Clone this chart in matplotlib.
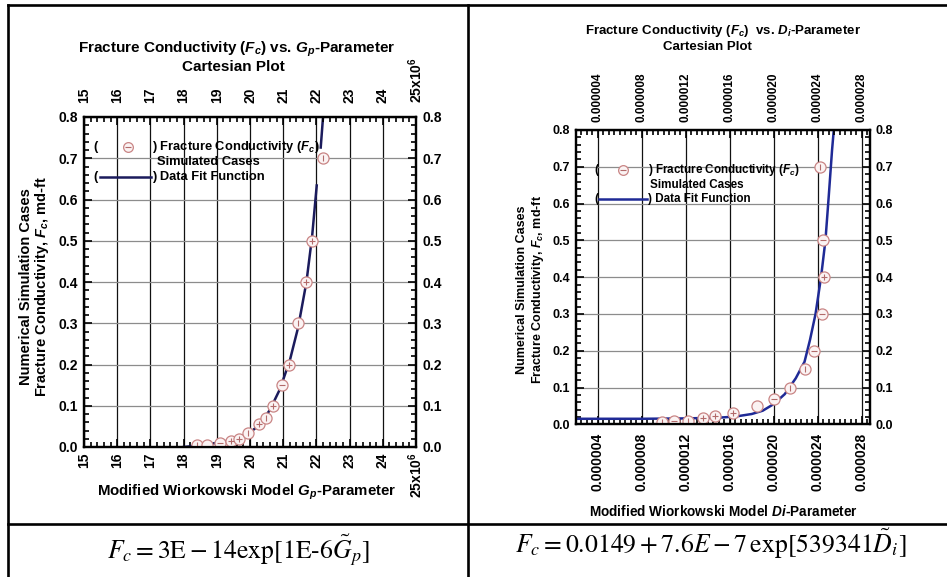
import matplotlib
matplotlib.use('Agg')
import matplotlib.pyplot as plt
from matplotlib.lines import Line2D
from matplotlib.ticker import MultipleLocator

plt.rcParams['font.family'] = ['Liberation Sans', 'DejaVu Sans']
plt.rcParams['mathtext.fontset'] = 'custom'
plt.rcParams['mathtext.rm'] = 'Liberation Sans:bold'
plt.rcParams['mathtext.it'] = 'Liberation Sans:italic:bold'
plt.rcParams['mathtext.bf'] = 'Liberation Sans:bold'

# ---- left chart: Fc vs Gp (x in 1e6) ----
gp_pts = [18.40, 18.69, 19.10, 19.43, 19.67, 19.95, 20.27, 20.47, 20.68, 20.97,
          21.16, 21.46, 21.69, 21.86, 22.19]
fc_gp_pts = [0.004, 0.005, 0.01, 0.015, 0.02, 0.035, 0.055, 0.07, 0.10, 0.15,
             0.20, 0.30, 0.40, 0.50, 0.70]
gp_fit_lo = [18.0, 18.5, 19.0, 19.5, 20.0, 20.3, 20.6, 20.9, 21.2, 21.45, 21.7, 21.87, 22.01]
fc_fit_lo = [0.0, 0.004, 0.01, 0.018, 0.035, 0.055, 0.09, 0.14, 0.21, 0.29, 0.40, 0.51, 0.634]
gp_fit_hi = [22.13, 22.20]
fc_fit_hi = [0.726, 0.80]
gp_ticks = list(range(15, 26))
gp_labels = [str(v) for v in range(15, 25)] + ['25x10$^{6}$']

# ---- right chart: Fc vs Di ----
di_pts = [9.84e-6, 10.96e-6, 12.25e-6, 13.6e-6, 14.67e-6, 16.33e-6, 18.5e-6, 20.0e-6,
          21.5e-6, 22.84e-6, 23.68e-6, 24.35e-6, 24.59e-6, 24.50e-6, 24.20e-6]
fc_di_pts = [0.005, 0.008, 0.01, 0.017, 0.022, 0.032, 0.05, 0.07,
             0.10, 0.15, 0.20, 0.30, 0.40, 0.50, 0.70]
di_fit = [2.0e-6, 4e-6, 8e-6, 12e-6, 15e-6, 16.5e-6, 18e-6, 19e-6, 20e-6, 21e-6, 22e-6,
          22.8e-6, 23.3e-6, 23.8e-6, 24.3e-6, 24.7e-6, 25.0e-6, 25.3e-6, 25.6e-6]
fc_di_fit = [0.015, 0.015, 0.015, 0.016, 0.018, 0.021, 0.028, 0.037, 0.055, 0.082, 0.125,
             0.17, 0.23, 0.30, 0.40, 0.50, 0.62, 0.745, 0.85]
di_ticks = [4e-6, 8e-6, 12e-6, 16e-6, 20e-6, 24e-6, 28e-6]
di_labels = ['%.6f' % v for v in di_ticks]

fc_ticks = [0.0, 0.1, 0.2, 0.3, 0.4, 0.5, 0.6, 0.7, 0.8]
fc_labels = ['%.1f' % v for v in fc_ticks]

# small symbols inside the circles
inner_gp = ['|', '', '_', '+', '+', '|', '+', '|', '+', '_', '+', '|', '+', '+', '|']
inner_di = ['|', '_', '|', '+', '+', '+', '', '_', '|', '|', '_', '_', '+', '_', '|']

W, H = 947, 577
def fx(x):
    return x / W
def fy(y):
    return 1 - y / H

fig = plt.figure(figsize=(W / 100, H / 100), dpi=100)

ring = dict(marker='o', ls='none', mfc='#fbf3f3', mec='#c98585', mew=0.9)
sym_color = '#b26a6a'
B = dict(fontweight='bold')


def style_axes(ax, xlim, xticks, xlabels, xminor, size_bot, size_top, pad_bot, pad_top,
               size_y, pad_l, pad_r):
    ax.set_xlim(*xlim)
    ax.set_ylim(0, 0.8)
    ax.set_xticks(xticks)
    ax.set_xticklabels(xlabels, fontweight='bold')
    ax.xaxis.set_minor_locator(MultipleLocator(xminor))
    ax.set_yticks(fc_ticks)
    ax.set_yticklabels(fc_labels, fontweight='bold')
    ax.yaxis.set_minor_locator(MultipleLocator(0.02))
    ax.tick_params(which='both', direction='in', top=False, right=True, width=1.2)
    ax.tick_params(which='major', length=6)
    ax.tick_params(which='minor', length=3.5)
    ax.tick_params(axis='x', labelrotation=90, labelsize=size_bot, pad=pad_bot)
    ax.tick_params(axis='y', labelright=True, labelsize=size_y)
    ax.tick_params(axis='y', which='major', pad=pad_l)
    for t in ax.yaxis.get_major_ticks():
        t.label2.set_fontweight('bold')
    ax.grid(axis='x', color='#111111', lw=0.9)
    ax.grid(axis='y', color='#8c8c8c', lw=0.9)
    for s in ax.spines.values():
        s.set_linewidth(1.6)
    # top axis with its own label size / spacing
    top = ax.twiny()
    top.set_xlim(*xlim)
    top.set_xticks(xticks)
    top.set_xticklabels(xlabels, fontweight='bold')
    top.xaxis.set_minor_locator(MultipleLocator(xminor))
    top.tick_params(which='both', direction='in', width=1.2, labelrotation=90)
    top.tick_params(which='major', length=6, labelsize=size_top, pad=pad_top)
    top.tick_params(which='minor', length=3.5)
    for s in top.spines.values():
        s.set_linewidth(1.6)
    return top


# ---------------- left chart ----------------
ax1 = fig.add_axes([fx(84), fy(447), 332 / W, 330 / H])
style_axes(ax1, (15, 25), gp_ticks, gp_labels, 0.2, 10, 10, 4, 10, 10, 4.5, 5)
ax1.plot(gp_fit_lo, fc_fit_lo, color='#1b1b5c', lw=1.8, zorder=3)
ax1.plot(gp_fit_hi, fc_fit_hi, color='#1b1b5c', lw=1.8, zorder=3)
ax1.plot(gp_pts, fc_gp_pts, ms=8, zorder=4, **ring)
for x, y, m in zip(gp_pts, fc_gp_pts, inner_gp):
    if m:
        ax1.plot([x], [y], marker=m, ms=4, mew=0.8, color=sym_color, ls='none', zorder=5)

fig.text(fx(237), fy(49), r'Fracture Conductivity ($F_c$) vs. $G_p$-Parameter',
         ha='center', va='center', fontsize=11, **B)
fig.text(fx(233), fy(67), 'Cartesian Plot', ha='center', va='center', fontsize=11, **B)
fig.text(fx(247), fy(492), r'Modified Wiorkowski Model $G_p$-Parameter',
         ha='center', va='center', fontsize=10.8, **B)
fig.text(fx(26), fy(287), 'Numerical Simulation Cases', rotation=90,
         ha='center', va='center', fontsize=10.5, **B)
fig.text(fx(42), fy(287), r'Fracture Conductivity, $F_c$, md-ft', rotation=90,
         ha='center', va='center', fontsize=10.5, **B)

# legend of the left chart
lf = 9.3
fig.text(fx(93), fy(147), '(', ha='left', va='center', fontsize=lf, **B)
fig.add_artist(Line2D([fx(128)], [fy(147)], ms=7, **ring))
fig.add_artist(Line2D([fx(128)], [fy(147)], marker='_', ms=4, mew=0.8, color=sym_color))
fig.text(fx(152), fy(147), r') Fracture Conductivity ($F_c$)', ha='left', va='center', fontsize=lf, **B)
fig.text(fx(157), fy(162), 'Simulated Cases', ha='left', va='center', fontsize=lf, **B)
fig.text(fx(93), fy(177), '(', ha='left', va='center', fontsize=lf, **B)
fig.add_artist(Line2D([fx(100), fx(151)], [fy(177), fy(177)], color='#1b1b5c', lw=1.8))
fig.text(fx(152), fy(177), ') Data Fit Function', ha='left', va='center', fontsize=lf, **B)

# ---------------- right chart ----------------
ax2 = fig.add_axes([fx(575.7), fy(424.3), 294.3 / W, 294.3 / H])
style_axes(ax2, (2.0e-6, 28.75e-6), di_ticks, di_labels, 0.5e-6, 10, 8.5, 6, 6, 9, 4, 3)
ax2.plot(di_fit, fc_di_fit, color='#1f2a96', lw=1.8, zorder=3)
ax2.plot(di_pts, fc_di_pts, ms=8, zorder=4, **ring)
for x, y, m in zip(di_pts, fc_di_pts, inner_di):
    if m:
        ax2.plot([x], [y], marker=m, ms=4, mew=0.8, color=sym_color, ls='none', zorder=5)

fig.text(fx(723), fy(31), r'Fracture Conductivity ($F_c$)  vs. $D_i$-Parameter',
         ha='center', va='center', fontsize=9.5, **B)
fig.text(fx(707), fy(47), 'Cartesian Plot', ha='center', va='center', fontsize=9.5, **B)
fig.text(fx(724), fy(512), r'Modified Wiorkowski Model $Di$-Parameter',
         ha='center', va='center', fontsize=9.8, **B)
fig.text(fx(522), fy(290), 'Numerical Simulation Cases', rotation=90,
         ha='center', va='center', fontsize=9, **B)
fig.text(fx(538), fy(290), r'Fracture Conductivity, $F_c$, md-ft', rotation=90,
         ha='center', va='center', fontsize=9, **B)

rf = 8.4
fig.text(fx(594), fy(170), '(', ha='left', va='center', fontsize=rf, **B)
fig.add_artist(Line2D([fx(623)], [fy(170)], ms=7, **ring))
fig.add_artist(Line2D([fx(623)], [fy(170)], marker='_', ms=4, mew=0.8, color=sym_color))
fig.text(fx(648), fy(170), r') Fracture Conductivity ($F_c$)', ha='left', va='center', fontsize=rf, **B)
fig.text(fx(650), fy(185), 'Simulated Cases', ha='left', va='center', fontsize=rf, **B)
fig.text(fx(594), fy(199), '(', ha='left', va='center', fontsize=rf, **B)
fig.add_artist(Line2D([fx(599), fx(647)], [fy(199), fy(199)], color='#1f2a96', lw=1.8))
fig.text(fx(648), fy(199), ') Data Fit Function', ha='left', va='center', fontsize=rf, **B)

# ---------------- equations ----------------
fig.text(fx(238), fy(550), r'$F_c = 3\mathrm{E} - 14\mathrm{exp}[1\mathrm{E}$-$6\tilde{G}_p]$',
         ha='center', va='center', fontsize=18.5, fontweight='normal',
         family='STIXGeneral', math_fontfamily='stix')
fig.text(fx(711), fy(544), r'$F_c = 0.0149 + 7.6E - 7\,\mathrm{exp}[539341\tilde{D}_i]$',
         ha='center', va='center', fontsize=18.5, fontweight='normal',
         family='STIXGeneral', math_fontfamily='stix')

# ---------------- table frame ----------------
frame = dict(color='black', lw=1.9)
fig.add_artist(Line2D([fx(7.5), fx(947)], [fy(5), fy(5)], **frame))
fig.add_artist(Line2D([fx(7.5), fx(7.5)], [fy(5), fy(577)], **frame))
fig.add_artist(Line2D([fx(467.7), fx(467.7)], [fy(5), fy(577)], **frame))
fig.add_artist(Line2D([fx(7.5), fx(947)], [fy(524), fy(524)], **frame))

fig.savefig('out.png', dpi=100)
